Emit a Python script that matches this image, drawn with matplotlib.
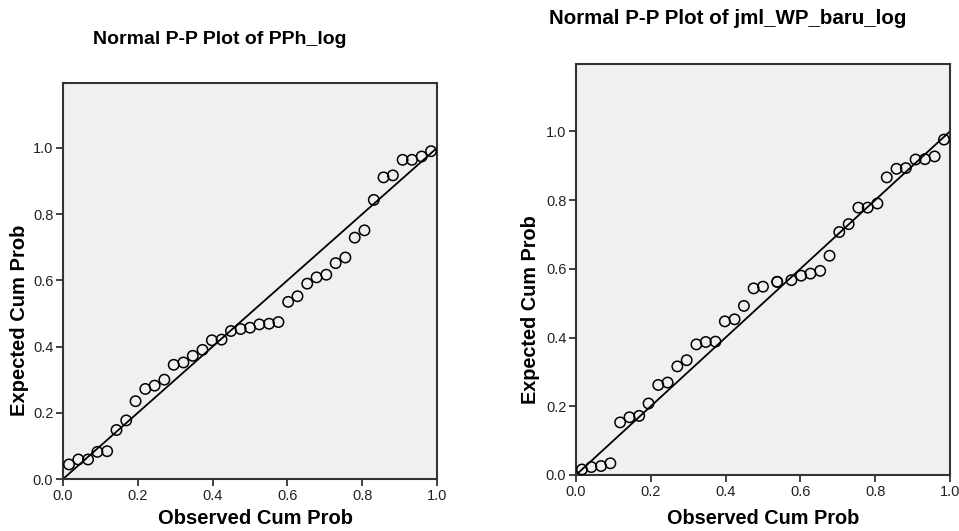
import matplotlib.pyplot as plt

plt.rcParams['font.family'] = ['Liberation Sans', 'DejaVu Sans']

# observed cumulative probabilities
obs_pph = [0.016, 0.041, 0.067, 0.092, 0.118, 0.143, 0.169, 0.194, 0.220, 0.245,
           0.271, 0.296, 0.322, 0.347, 0.373, 0.398, 0.424, 0.449, 0.475, 0.500,
           0.525, 0.551, 0.576, 0.602, 0.627, 0.653, 0.678, 0.704, 0.729, 0.755,
           0.780, 0.806, 0.831, 0.857, 0.882, 0.908, 0.933, 0.959, 0.984]
exp_pph = [0.044, 0.059, 0.059, 0.082, 0.084, 0.148, 0.177, 0.235, 0.272, 0.282,
           0.300, 0.345, 0.352, 0.372, 0.390, 0.419, 0.421, 0.447, 0.453, 0.457,
           0.467, 0.469, 0.474, 0.535, 0.552, 0.590, 0.609, 0.617, 0.652, 0.669,
           0.729, 0.751, 0.843, 0.911, 0.917, 0.964, 0.964, 0.974, 0.990]

obs_wp = [0.016, 0.041, 0.067, 0.092, 0.118, 0.143, 0.169, 0.194, 0.220, 0.245,
          0.271, 0.296, 0.322, 0.347, 0.373, 0.398, 0.424, 0.449, 0.475, 0.500,
          0.538, 0.538, 0.576, 0.602, 0.627, 0.653, 0.678, 0.704, 0.729, 0.755,
          0.780, 0.806, 0.831, 0.857, 0.882, 0.908, 0.933, 0.959, 0.984]
exp_wp = [0.016, 0.023, 0.026, 0.034, 0.153, 0.168, 0.172, 0.208, 0.262, 0.269,
          0.316, 0.334, 0.380, 0.387, 0.388, 0.447, 0.453, 0.492, 0.543, 0.548,
          0.562, 0.562, 0.567, 0.580, 0.586, 0.594, 0.638, 0.707, 0.730, 0.778,
          0.778, 0.790, 0.866, 0.891, 0.893, 0.918, 0.919, 0.927, 0.976]

ticks = [0.0, 0.2, 0.4, 0.6, 0.8, 1.0]
tick_labels = ['0.0', '0.2', '0.4', '0.6', '0.8', '1.0']

fig = plt.figure(figsize=(9.59, 5.31), dpi=100)


def pp_panel(rect, obs, exp):
    ax = fig.add_axes(rect)
    ax.set_facecolor('#f0f0f0')
    ax.plot([0, 1], [0, 1], color='black', lw=1.3, zorder=2)
    ax.scatter(obs, exp, s=56, facecolors='none', edgecolors='black',
               linewidths=1.1, zorder=3, clip_on=False)
    ax.set_xlim(0, 1.0)
    ax.set_ylim(0, 1.196)
    ax.set_xticks(ticks)
    ax.set_xticklabels(tick_labels)
    ax.set_yticks(ticks)
    ax.set_yticklabels(tick_labels)
    ax.tick_params(direction='out', length=5, width=1.2, labelsize=10.5,
                   pad=2, colors='#222222')
    for s in ax.spines.values():
        s.set_linewidth(1.5)
        s.set_color('#333333')
    return ax


pp_panel([0.0657, 0.0979, 0.390, 0.7458], obs_pph, exp_pph)
pp_panel([0.6006, 0.1055, 0.390, 0.774], obs_wp, exp_wp)

# titles and axis labels
fig.text(220 / 959, 1 - 40 / 531, 'Normal P-P Plot of PPh_log',
         ha='center', va='center', fontsize=14, fontweight='bold')
fig.text(728 / 959, 1 - 18 / 531, 'Normal P-P Plot of jml_WP_baru_log',
         ha='center', va='center', fontsize=14.8, fontweight='bold')

fig.text(255 / 959, 1 - 519 / 531, 'Observed Cum Prob',
         ha='center', va='center', fontsize=14.5, fontweight='bold')
fig.text(763 / 959, 1 - 519 / 531, 'Observed Cum Prob',
         ha='center', va='center', fontsize=14.3, fontweight='bold')
fig.text(20 / 959, 1 - 320 / 531, 'Expected Cum Prob', rotation=90,
         ha='center', va='center', fontsize=14.5, fontweight='bold')
fig.text(531 / 959, 1 - 310 / 531, 'Expected Cum Prob', rotation=90,
         ha='center', va='center', fontsize=14.3, fontweight='bold')

fig.savefig('out.png', dpi=100)
